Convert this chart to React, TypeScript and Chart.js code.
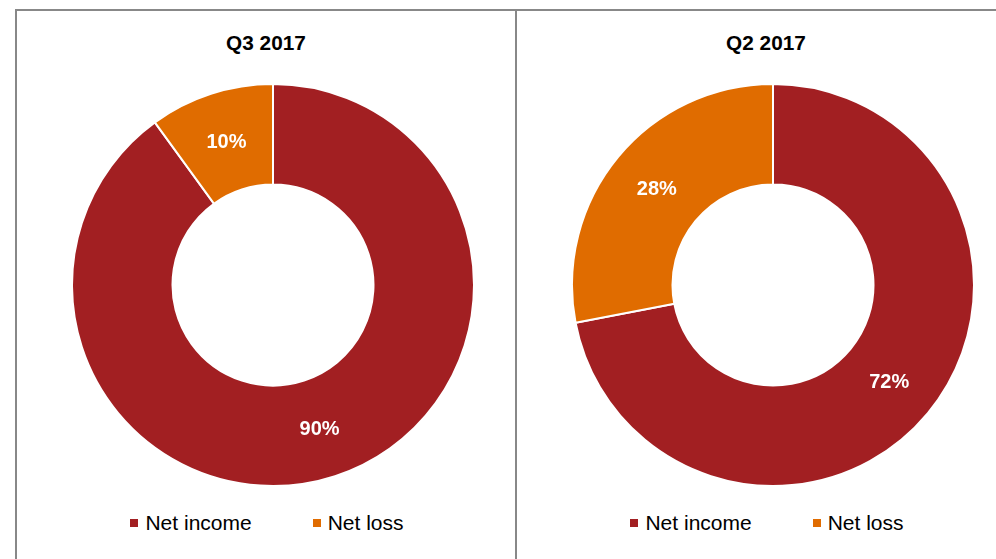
import React, { useEffect, useRef } from "react";
import { Chart, registerables } from "chart.js";

Chart.register(...registerables);

const categories = ["Net income", "Net loss"];
const q3Values = [90, 10];
const q2Values = [72, 28];
const panelTitles = ["Q3 2017", "Q2 2017"];
const sliceColors = ["#A21F22", "#E06C00"];

const FONT = "'Liberation Sans', Arial, Helvetica, sans-serif";

const labelPlugin = {
  id: "sliceLabels",
  afterDatasetsDraw(chart: any) {
    const ctx = chart.ctx;
    const meta = chart.getDatasetMeta(0);
    const values = chart.data.datasets[0].data as number[];
    ctx.save();
    ctx.fillStyle = "#ffffff";
    ctx.font = `bold 20px ${FONT}`;
    ctx.textAlign = "center";
    ctx.textBaseline = "middle";
    meta.data.forEach((arc: any, i: number) => {
      const p = arc.tooltipPosition();
      ctx.fillText(`${values[i]}%`, p.x, p.y + 1);
    });
    ctx.restore();
  },
};

function Doughnut({ values, left }: { values: number[]; left: number }) {
  const ref = useRef<HTMLCanvasElement | null>(null);
  useEffect(() => {
    if (!ref.current) return;
    const chart = new Chart(ref.current, {
      type: "doughnut",
      data: {
        labels: categories,
        datasets: [
          {
            data: values,
            backgroundColor: sliceColors,
            borderColor: "#ffffff",
            borderWidth: 2,
          },
        ],
      },
      options: {
        animation: false,
        responsive: false,
        maintainAspectRatio: false,
        cutout: "50%",
        layout: { padding: 0 },
        plugins: {
          legend: { display: false },
          title: { display: false },
          tooltip: { enabled: false },
        },
      },
      plugins: [labelPlugin],
    });
    return () => chart.destroy();
  }, [values]);
  return (
    <canvas
      ref={ref}
      width={404}
      height={404}
      style={{ position: "absolute", left, top: 83, width: 404, height: 404 }}
    />
  );
}

function Panel({ x, title }: { x: number; title: string }) {
  return (
    <>
      <div
        style={{
          position: "absolute",
          left: x,
          top: 32,
          width: 498,
          textAlign: "center",
          fontFamily: FONT,
          fontWeight: "bold",
          fontSize: 20.8,
          lineHeight: "21px",
          color: "#000",
        }}
      >
        {title}
      </div>
      <div
        style={{
          position: "absolute",
          left: x + 1,
          top: 512.2,
          width: 498,
          height: 21,
          display: "flex",
          justifyContent: "center",
          alignItems: "center",
          fontFamily: FONT,
          fontSize: 21,
          lineHeight: "21px",
          color: "#000",
        }}
      >
        {categories.map((c, i) => (
          <div
            key={c}
            style={{
              display: "flex",
              alignItems: "center",
              marginLeft: i === 0 ? 0 : 61,
            }}
          >
            <span
              style={{
                display: "inline-block",
                width: 8,
                height: 8,
                background: sliceColors[i],
                marginRight: 7,
              }}
            />
            <span>{c}</span>
          </div>
        ))}
      </div>
    </>
  );
}

export default function App() {
  return (
    <div
      style={{
        position: "fixed",
        left: 0,
        top: 0,
        width: 996,
        height: 559,
        overflow: "hidden",
        background: "#ffffff",
      }}
    >
      <div
        style={{
          position: "absolute",
          left: 15,
          top: 9,
          width: 502,
          height: 600,
          boxSizing: "border-box",
          borderLeft: "2px solid #888888",
          borderTop: "2px solid #888888",
          borderRight: "2px solid #888888",
        }}
      />
      <div
        style={{
          position: "absolute",
          left: 515,
          top: 9,
          width: 600,
          height: 600,
          boxSizing: "border-box",
          borderLeft: "2px solid #888888",
          borderTop: "2px solid #888888",
        }}
      />
      <Panel x={17} title={panelTitles[0]} />
      <Panel x={517} title={panelTitles[1]} />
      <Doughnut values={q3Values} left={71} />
      <Doughnut values={q2Values} left={571} />
    </div>
  );
}
